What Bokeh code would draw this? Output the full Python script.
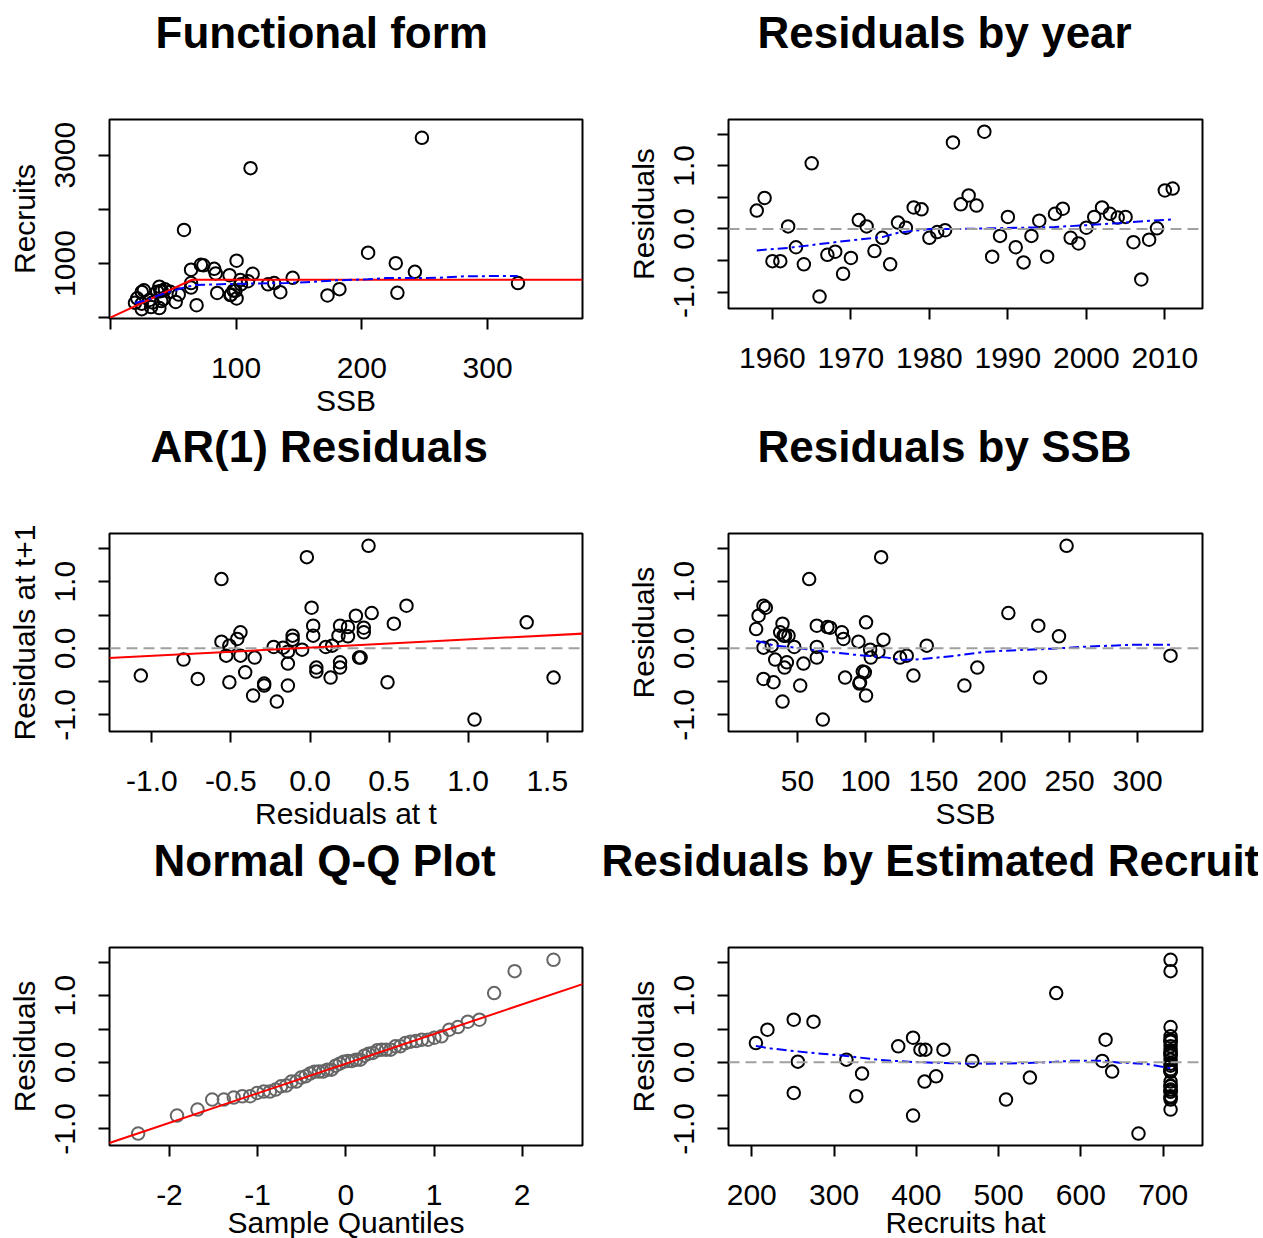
import math
from statistics import NormalDist
from bokeh.plotting import figure
from bokeh.layouts import column, row
from bokeh.models import (Range1d, FixedTicker, PrintfTickFormatter, Span, Slope, LinearAxis,
                          CustomJSTickFormatter)
from bokeh.embed import file_html
from bokeh.resources import INLINE

# ---------------- data ----------------
years = [1958, 1959, 1960, 1961, 1962, 1963, 1964, 1965, 1966, 1967,
         1968, 1969, 1970, 1971, 1972, 1973, 1974, 1975, 1976, 1977,
         1978, 1979, 1980, 1981, 1982, 1983, 1984, 1985, 1986, 1987,
         1988, 1989, 1990, 1991, 1992, 1993, 1994, 1995, 1996, 1997,
         1998, 1999, 2000, 2001, 2002, 2003, 2004, 2005, 2006, 2007,
         2008, 2009, 2010, 2011]
resid = [0.29, 0.49, -0.51, -0.51, 0.04, -0.29, -0.56, 1.04, -1.07, -0.41,
         -0.36, -0.71, -0.46, 0.14, 0.04, -0.35, -0.14, -0.56, 0.10, 0.02,
         0.34, 0.31, -0.14, -0.05, -0.02, 1.37, 0.39, 0.53, 0.37, 1.54,
         -0.44, -0.11, 0.19, -0.29, -0.53, -0.11, 0.13, -0.44, 0.24, 0.32,
         -0.14, -0.23, 0.02, 0.19, 0.34, 0.24, 0.18, 0.19, -0.21, -0.80,
         -0.17, 0.01, 0.61, 0.64]
ssb = [19.6, 21.4, 96.0, 32.4, 31.1, 40.5, 52.0, 58.6, 68.6, 135.2,
       99.5, 100.4, 25.0, 83.8, 145.0, 98.0, 64.2, 172.7, 94.8, 64.2,
       227.0, 74.0, 103.9, 109.5, 103.4, 111.5, 100.4, 205.0, 39.0, 247.8,
       228.3, 130.3, 40.9, 182.2, 95.5, 324.2, 113.2, 85.0, 82.6, 72.0,
       125.4, 54.4, 47.6, 39.8, 64.2, 37.3, 242.2, 43.4, 42.2, 39.0,
       33.6, 25.0, 26.7, 25.0]
rec_hat = [205, 219, 709, 327, 315, 410, 509, 570, 670, 709,
           709, 709, 251, 709, 709, 709, 638, 709, 709, 626,
           709, 709, 709, 709, 709, 709, 709, 709, 396, 709,
           709, 709, 411, 709, 709, 709, 709, 709, 709, 709,
           709, 538, 468, 405, 630, 378, 709, 433, 424, 396,
           334, 256, 275, 251]
recruits = [274, 357, 426, 196, 328, 307, 291, 1620, 230, 471,
            495, 355, 158, 816, 735, 500, 555, 410, 784, 639,
            1005, 967, 616, 674, 695, 2760, 1052, 1200, 573, 3320,
            460, 638, 497, 527, 417, 638, 810, 457, 901, 976,
            616, 428, 477, 490, 885, 480, 846, 523, 344, 178,
            282, 259, 506, 476]

# hockey-stick fit in "Functional form"
fit_ssb = [0, 65, 375.5]
fit_rec = [0, 700, 700]

# smoothers (blue dot-dash)
sm1_x = [19.5, 30, 38, 51, 60, 68, 80, 100, 140, 160, 180, 205, 220, 260, 283, 324]
sm1_y = [271, 330, 410, 505, 565, 605, 612, 625, 640, 660, 690, 709, 733, 735, 765, 770]
sm2_x = [1958, 1962, 1966, 1970, 1974, 1976, 1980, 1984, 1988, 1992, 1996, 2000, 2004, 2008, 2011]
sm2_y = [-0.34, -0.30, -0.24, -0.18, -0.13, -0.06, 0.0, 0.0, 0.01, 0.02, 0.03, 0.06, 0.09, 0.13, 0.15]
sm4_x = [19.6, 26, 32, 42, 54, 67, 79, 91, 103, 116, 125, 140, 165, 189, 214, 238, 262, 299, 324]
sm4_y = [0.11, 0.085, 0.045, 0.025, -0.005, -0.04, -0.065, -0.095, -0.115, -0.14, -0.175, -0.165,
         -0.115, -0.05, -0.025, -0.005, 0.025, 0.055, 0.055]
sm6_x = [205, 222, 251, 271, 315, 356, 396, 445, 485, 526, 566, 591, 627, 647, 680, 709]
sm6_y = [0.245, 0.21, 0.17, 0.145, 0.095, 0.035, 0.005, -0.015, -0.02, -0.015, 0.005, 0.025,
         0.025, -0.005, -0.025, -0.09]

# straight reference lines (gradient, intercept)
ar_line = (0.122, 0.01)
qq_line = (0.445, -0.02)

# ---------------- styling helpers ----------------
FONT = "Liberation Sans"
BLUE_DASH = "10 4 3 4"
TITLE_GAP = 63


def panel(title, title_off, xr, yr, fw, fh, left, top, right, bottom,
          xt, xm, xf, yt, ym, yf, xlabel, ylabel, xlab_standoff=3):
    p = figure(frame_width=fw, frame_height=fh,
               x_range=Range1d(*xr), y_range=Range1d(*yr),
               output_backend="svg", toolbar_location=None, tools="",
               min_border_left=left, min_border_right=right,
               min_border_top=top, min_border_bottom=bottom,
               title=title)
    xa = p.below[0]
    ya = p.left[0]
    p.grid.visible = False
    p.outline_line_color = "black"
    p.outline_line_width = 2
    p.background_fill_color = "white"
    p.border_fill_color = "white"
    # invisible spacer between title and frame (a tick-less, label-less axis)
    mid = (xr[0] + xr[1]) / 2
    spacer = LinearAxis(ticker=FixedTicker(ticks=[mid], minor_ticks=[]),
                        formatter=CustomJSTickFormatter(code="return ''"),
                        major_tick_out=TITLE_GAP, major_tick_in=0,
                        minor_tick_out=0, minor_tick_in=0, major_label_standoff=0,
                        major_label_text_font_size="1px", axis_line_color=None,
                        major_tick_line_color=None, minor_tick_line_color=None)
    p.add_layout(spacer, "above")
    p.title.align = "left"
    p.title.offset = title_off
    p.title.text_font = FONT
    p.title.text_font_size = "44px"
    p.title.text_font_style = "bold"
    p.title.text_color = "black"
    if "standoff" in p.title.properties():
        p.title.standoff = 0
    for ax, ticks, minor, fmt in ((xa, xt, xm, xf), (ya, yt, ym, yf)):
        ax.ticker = FixedTicker(ticks=ticks, minor_ticks=minor)
        ax.formatter = PrintfTickFormatter(format=fmt)
        ax.axis_line_color = None
        ax.major_tick_in = 0
        ax.major_tick_out = 11
        ax.minor_tick_in = 0
        ax.minor_tick_out = 11
        ax.major_tick_line_width = 2
        ax.minor_tick_line_width = 2
        ax.major_tick_line_color = "black"
        ax.minor_tick_line_color = "black"
        ax.major_label_text_font = FONT
        ax.major_label_text_font_size = "30px"
        ax.major_label_text_color = "black"
        ax.axis_label_text_font = FONT
        ax.axis_label_text_font_size = "30px"
        ax.axis_label_text_font_style = "normal"
        ax.axis_label_text_color = "black"
    xa.major_label_standoff = 28
    ya.major_label_standoff = 23
    ya.major_label_orientation = "vertical"
    if xlabel:
        xa.axis_label = xlabel
        xa.axis_label_standoff = xlab_standoff
    ya.axis_label = ylabel
    ya.axis_label_standoff = 12
    return p


def circles(p, x, y, color="black"):
    p.scatter(x, y, marker="circle", size=12.5, fill_color=None,
              line_color=color, line_width=2)


def zero_line(p):
    p.add_layout(Span(location=0, dimension="width", line_color="#a0a0a0",
                      line_width=2, line_dash="11 6"))


RES_T = [-1.0, 0.0, 1.0]
RES_M = [-0.5, 0.5, 1.5]
L1, L2 = 109, 136          # left borders of the two columns
R1, R2 = 10, 56            # right borders

# ---- 1 Functional form
p1 = panel("Functional form", 46, (-0.66, 375.5), (-15, 3658), 473, 199, L1, 119, R1, 101,
           [100, 200, 300], [0], "%.0f", [1000, 3000], [0, 2000], "%.0f", "SSB", "Recruits")
circles(p1, ssb, recruits)
p1.line(fit_ssb, fit_rec, line_color="red", line_width=2)
p1.line(sm1_x, sm1_y, line_color="blue", line_width=2, line_dash=BLUE_DASH)

# ---- 2 Residuals by year
p2 = panel("Residuals by year", 29, (1954.4, 2014.8), (-1.26, 1.733), 474, 189, L2, 119, R2, 111,
           [1960, 1970, 1980, 1990, 2000, 2010], [], "%.0f", RES_T, RES_M, "%.1f", None, "Residuals")
zero_line(p2)
circles(p2, years, resid)
p2.line(sm2_x, sm2_y, line_color="blue", line_width=2, line_dash=BLUE_DASH)

# ---- 3 AR(1) residuals
p3 = panel("AR(1) Residuals", 41, (-1.268, 1.723), (-1.25, 1.725), 473, 198, L1, 113, R1, 102,
           [-1.0, -0.5, 0.0, 0.5, 1.0, 1.5], [], "%.1f", RES_T, RES_M, "%.1f",
           "Residuals at t", "Residuals at t+1")
zero_line(p3)
circles(p3, resid[:-1], resid[1:])
p3.add_layout(Slope(gradient=ar_line[0], y_intercept=ar_line[1], line_color="red", line_width=2))

# ---- 4 Residuals by SSB
p4 = panel("Residuals by SSB", 29, (-0.7, 347.7), (-1.25, 1.725), 474, 198, L2, 113, R2, 102,
           [50, 100, 150, 200, 250, 300], [], "%.0f", RES_T, RES_M, "%.1f", "SSB", "Residuals")
zero_line(p4)
circles(p4, ssb, resid)
p4.line(sm4_x, sm4_y, line_color="blue", line_width=2, line_dash=BLUE_DASH)

# ---- 5 Normal Q-Q
n = len(resid)
qq_theo = [NormalDist().inv_cdf((i + 0.5) / n) for i in range(n)]
qq_samp = sorted(resid)
p5 = panel("Normal Q-Q Plot", 44, (-2.68, 2.684), (-1.25, 1.725), 473, 198, L1, 113, R1, 93,
           [-2, -1, 0, 1, 2], [], "%.0f", RES_T, RES_M, "%.1f", "Sample Quantiles", "Residuals",
           xlab_standoff=-2)
circles(p5, qq_theo, qq_samp, color="#666666")
p5.add_layout(Slope(gradient=qq_line[0], y_intercept=qq_line[1], line_color="red", line_width=2))

# ---- 6 Residuals by estimated recruits
p6 = panel("Residuals by Estimated Recruits", -127, (171.7, 747.8), (-1.25, 1.725), 474, 198, L2, 113, R2, 93,
           [200, 300, 400, 500, 600, 700], [], "%.0f", RES_T, RES_M, "%.1f", "Recruits hat", "Residuals",
           xlab_standoff=-2)
zero_line(p6)
circles(p6, rec_hat, resid)
p6.line(sm6_x, sm6_y, line_color="blue", line_width=2, line_dash=BLUE_DASH)

layout = column(row(p1, p2), row(p3, p4), row(p5, p6))
open("out.html", "w").write(file_html(layout, INLINE))
